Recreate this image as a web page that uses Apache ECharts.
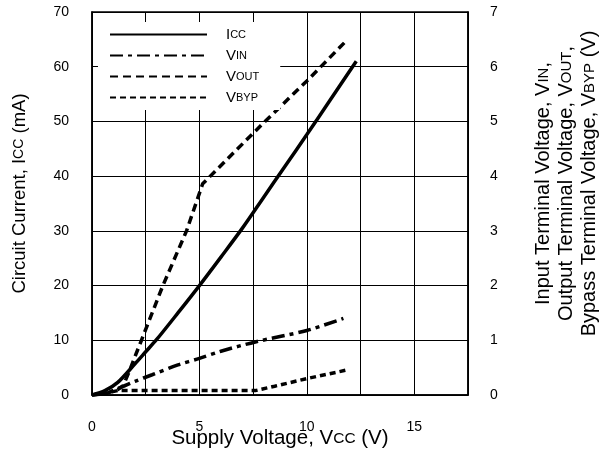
<!DOCTYPE html>
<html>
<head>
<meta charset="utf-8">
<script src="https://cdn.jsdelivr.net/npm/echarts@6/dist/echarts.min.js"></script>
<style>html,body{margin:0;padding:0;background:#fff}#c{width:599px;height:452px}</style>
</head>
<body>
<div id="c"></div>
<script>
// Supply voltage Vcc (V) vs values
const iccData = [[0,0],[0.6,0.8],[1.2,2.3],[2,5.7],[2.5,7.9],[3,10.1],[4,15],[5,20],[6,25.2],[7,30.5],[8,36.2],[9,41.9],[10,47.6],[11,53.4],[12.3,61]];
const vinData = [[0,0],[0.8,0.06],[1.4,0.15],[2,0.25],[2.8,0.37],[4,0.55],[5,0.67],[6,0.8],[7.6,0.97],[10,1.18],[11.7,1.4]];
const voutData = [[0,0],[0.6,0.02],[1.2,0.1],[1.45,0.17],[1.7,0.4],[2.3,1.0],[2.85,1.55],[3.3,2.0],[4.4,3.0],[5.15,3.86],[6.65,4.45],[8,4.98],[10,5.74],[11.9,6.5]];
const vbypData = [[0,0],[0.6,0.03],[1.2,0.08],[7.6,0.08],[8.5,0.16],[10,0.3],[11.9,0.46]];
const seriesNames = ['Icc','Vin','Vout','Vbyp'];
const legendLabels = {Icc:'I{sc|CC}', Vin:'V{sc|IN}', Vout:'V{sc|OUT}', Vbyp:'V{sc|BYP}'};
const xTicks = [0,5,10,15];

const FF = 'Liberation Sans, Arial, sans-serif';
const chart = echarts.init(document.getElementById('c'), null, {renderer:'canvas'});
const black = '#000';
chart.setOption({
  animation:false,
  backgroundColor:'#fff',
  textStyle:{fontFamily:FF, color:black},
  grid:{left:92, right:131, top:12, bottom:57, show:true, borderColor:black, borderWidth:1.5, outerBoundsMode:'none'},
  legend:{
    orient:'vertical', left:98, top:22, backgroundColor:'#fff', padding:[5,21,5,11],
    itemWidth:97, itemHeight:14, itemGap:6,
    data:seriesNames,
    itemStyle:{opacity:0},
    formatter: n => legendLabels[n],
    textStyle:{fontFamily:FF, fontSize:15, color:black, padding:[0,0,0,14], rich:{sc:{fontSize:11, fontFamily:FF, color:black}}}
  },
  xAxis:{
    type:'value', min:0, max:17.5, interval:2.5,
    name:'Supply Voltage, V{sc|CC} (V)', nameLocation:'middle', nameGap:33, nameMoveOverlap:false,
    nameTextStyle:{fontFamily:FF, fontSize:20.5, color:black, rich:{sc:{fontSize:15.5, fontFamily:FF, color:black}}},
    axisLine:{show:true, lineStyle:{color:black, width:1.5}},
    axisTick:{show:false},
    axisLabel:{margin:25, fontSize:14, color:black, fontFamily:FF, formatter: v => xTicks.includes(v) ? String(v) : ''},
    splitLine:{show:true, lineStyle:{color:black, width:1}}
  },
  yAxis:[{
    type:'value', min:0, max:70, interval:10, position:'left',
    name:'Circuit Current, I{sc|CC} (mA)', nameLocation:'middle', nameGap:63,
    nameTextStyle:{fontFamily:FF, fontSize:18.5, color:black, padding:[0,0,0,20], rich:{sc:{fontSize:14, fontFamily:FF, color:black}}},
    axisLine:{show:true, lineStyle:{color:black, width:1.5}},
    axisTick:{show:false},
    axisLabel:{margin:23, fontSize:14, color:black, fontFamily:FF},
    splitLine:{show:true, lineStyle:{color:black, width:1}}
  },{
    type:'value', min:0, max:7, interval:1, position:'right',
    name:'Input Terminal Voltage, V{sc|IN},\nOutput Terminal Voltage, V{sc|OUT},\nBypass Terminal Voltage, V{sc|BYP} (V)',
    nameLocation:'middle', nameGap:64,
    nameTextStyle:{fontFamily:FF, fontSize:20, color:black, lineHeight:23, align:'center', padding:[0,0,0,40], rich:{sc:{fontSize:15, fontFamily:FF, color:black, lineHeight:23}}},
    axisLine:{show:true, lineStyle:{color:black, width:1.5}},
    axisTick:{show:false},
    axisLabel:{margin:22, fontSize:14, color:black, fontFamily:FF},
    splitLine:{show:false}
  }],
  series:[
    {name:'Icc', type:'line', yAxisIndex:0, data:iccData, symbol:'none', smooth:0.3, lineStyle:{color:black, width:3.5, type:'solid'}, itemStyle:{color:black}},
    {name:'Vin', type:'line', yAxisIndex:1, data:vinData, symbol:'none', smooth:0.3, lineStyle:{color:black, width:3.5, type:[13,5,4,5]}, itemStyle:{color:black}},
    {name:'Vout', type:'line', yAxisIndex:1, data:voutData, symbol:'none', lineStyle:{color:black, width:3.5, type:[8,5]}, itemStyle:{color:black}},
    {name:'Vbyp', type:'line', yAxisIndex:1, data:vbypData, symbol:'none', lineStyle:{color:black, width:3.5, type:[6,4]}, itemStyle:{color:black}}
  ]
});
</script>
</body>
</html>
